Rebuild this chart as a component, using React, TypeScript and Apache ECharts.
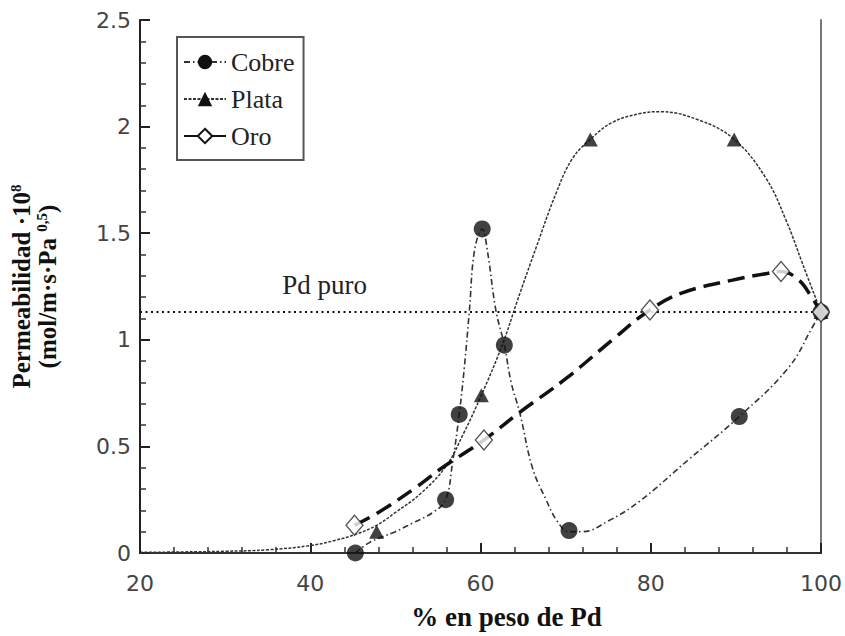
import React, { useEffect, useRef } from "react";
import * as echarts from "echarts";

// Measured marker positions (% Pd, permeability ·10^8)
const cobreX = [45.3, 55.9, 57.5, 60.2, 62.8, 70.4, 90.4, 100];
const cobreY = [0.0, 0.25, 0.65, 1.52, 0.975, 0.105, 0.64, 1.13];
const plataX = [47.8, 60.1, 72.9, 89.8, 100];
const plataY = [0.1, 0.74, 1.94, 1.94, 1.13];
const oroX = [45.2, 60.4, 79.9, 95.3, 100];
const oroY = [0.13, 0.53, 1.14, 1.32, 1.13];

// Fitted curves
const cobreCurveX = [45.3, 47, 50, 52, 54.4, 55.9, 56.7, 57.5, 58.1, 58.7, 59.3, 60.2, 60.8, 61.8, 62.8, 63.6, 64.6, 66.1, 67.7, 69, 70.4, 72, 75, 78.6, 84.5, 90.4, 96.2, 99, 100];
const cobreCurveY = [0.0, 0.05, 0.1, 0.14, 0.19, 0.25, 0.42, 0.65, 0.87, 1.14, 1.42, 1.52, 1.42, 1.14, 0.975, 0.8, 0.66, 0.4, 0.25, 0.15, 0.1, 0.1, 0.15, 0.24, 0.44, 0.64, 0.87, 1.06, 1.13];
const plataCurveX = [20, 25, 30, 35, 40, 43, 45.5, 47.8, 50, 53, 56, 58, 60.1, 62.6, 64.3, 66.6, 68.9, 70.8, 72.9, 75.5, 78.6, 81, 85.7, 89.8, 93.5, 95.9, 97.8, 100];
const plataCurveY = [0.003, 0.005, 0.008, 0.015, 0.035, 0.06, 0.09, 0.13, 0.19, 0.28, 0.41, 0.56, 0.74, 0.98, 1.18, 1.44, 1.69, 1.85, 1.94, 2.02, 2.06, 2.07, 2.03, 1.94, 1.76, 1.56, 1.36, 1.13];
const oroCurveX = [45.2, 48, 52.5, 55.5, 60.4, 64.6, 70.1, 75.5, 79.9, 83.7, 89.6, 93.5, 95.3, 97.4, 98.9, 100];
const oroCurveY = [0.13, 0.19, 0.31, 0.4, 0.53, 0.66, 0.82, 1.0, 1.14, 1.22, 1.28, 1.31, 1.32, 1.28, 1.2, 1.13];

const pdPuro = 1.13;
const pdPuroLabelX = 41.7;

const xTicks = { min: 20, max: 100, interval: 20 };
const yTicks = { min: 0, max: 2.5, interval: 0.5 };

const zip = (xs: number[], ys: number[]) => xs.map((x, i) => [x, ys[i]]);

const SERIF = '"Liberation Serif", "Times New Roman", serif';
const SANS = '"DejaVu Sans", sans-serif';

export default function App() {
  const ref = useRef<HTMLDivElement>(null);
  useEffect(() => {
    if (!ref.current) return;
    const chart = echarts.init(ref.current, undefined, { renderer: "svg" });
    const tick = () => ({ show: true, inside: true, length: 10, lineStyle: { color: "#222", width: 2 } });
    const minor = () => ({ show: true, splitNumber: 5, length: 6, lineStyle: { color: "#333", width: 1.5 } });
    const line = () => ({ show: true, lineStyle: { color: "#222", width: 2 } });
    const frame = (color: string) => ({
      axisLine: { show: true, lineStyle: { color, width: 2 } },
      axisTick: { show: false },
      minorTick: { show: false },
      axisLabel: { show: false },
      splitLine: { show: false },
    });
    chart.setOption({
      animation: false,
      backgroundColor: "#fff",
      grid: { left: 140, right: 23, top: 20, bottom: 83 },
      legend: {
        data: ["Cobre", "Plata", "Oro"],
        orient: "vertical",
        left: 177,
        top: 37,
        padding: [12, 9, 11, 6],
        itemGap: 11,
        itemWidth: 42,
        itemHeight: 18,
        borderColor: "#555",
        borderWidth: 2,
        backgroundColor: "#fff",
        selectedMode: false,
        textStyle: { fontFamily: SERIF, fontSize: 26, color: "#222", lineHeight: 26 },
      },
      xAxis: [
        {
          type: "value",
          ...xTicks,
          axisLine: line(),
          axisTick: tick(),
          minorTick: minor(),
          splitLine: { show: false },
          axisLabel: { margin: 19, fontFamily: SANS, fontSize: 22, color: "#444" },
          name: "% en peso de Pd",
          nameLocation: "middle",
          nameGap: 50,
          nameTextStyle: { fontFamily: SERIF, fontWeight: "bold", fontSize: 27, color: "#111", padding: [0, 0, 0, 52] },
        },
        { type: "value", position: "top", ...xTicks, ...frame("#333") },
      ],
      yAxis: [
        {
          type: "value",
          ...yTicks,
          axisLine: line(),
          axisTick: tick(),
          minorTick: minor(),
          splitLine: { show: false },
          axisLabel: { margin: 9, fontFamily: SANS, fontSize: 22, color: "#444" },
          name: "{t|Permeabilidad ·10}{s|8}\n{t|(mol/m·s·Pa }{s|0,5}{t|)}",
          nameLocation: "middle",
          nameRotate: 90,
          nameGap: 80,
          nameTextStyle: {
            rich: {
              t: { fontFamily: SERIF, fontWeight: "bold", fontSize: 25, color: "#111", lineHeight: 26 },
              s: { fontFamily: SERIF, fontWeight: "bold", fontSize: 15, color: "#111", lineHeight: 14, verticalAlign: "top" },
            },
          },
        },
        { type: "value", position: "right", ...yTicks, ...frame("#777") },
      ],
      series: [
        {
          name: "Cobre",
          type: "line",
          data: zip(cobreCurveX, cobreCurveY),
          smooth: 0.4,
          symbol: "circle",
          showSymbol: false,
          itemStyle: { color: "#111" },
          lineStyle: { color: "#333", width: 1.6, type: [6, 3, 1.5, 3] },
          z: 2,
          silent: true,
        },
        {
          name: "Plata",
          type: "line",
          data: zip(plataCurveX, plataCurveY),
          smooth: 0.4,
          symbol: "triangle",
          showSymbol: false,
          itemStyle: { color: "#111" },
          lineStyle: { color: "#333", width: 1.5, type: [3, 1.5] },
          z: 2,
          silent: true,
        },
        {
          name: "Oro",
          type: "line",
          data: zip(oroCurveX, oroCurveY),
          smooth: 0.4,
          symbol: "emptyDiamond",
          showSymbol: false,
          itemStyle: { color: "#111" },
          lineStyle: { color: "#111", width: 3.5, type: [17, 8] },
          z: 2,
          silent: true,
          markLine: {
            silent: true,
            symbol: "none",
            label: { show: false },
            lineStyle: { color: "#111", width: 2, type: [2, 3.5] },
            data: [{ yAxis: pdPuro }],
          },
          markPoint: {
            silent: true,
            symbol: "circle",
            symbolSize: 0,
            label: {
              show: true,
              position: "top",
              distance: 14,
              formatter: "Pd puro",
              fontFamily: SERIF,
              fontSize: 27,
              color: "#222",
            },
            data: [{ coord: [pdPuroLabelX, pdPuro] }],
          },
        },
        {
          name: "Cobre datos",
          type: "scatter",
          data: zip(cobreX, cobreY),
          symbol: "circle",
          symbolSize: 17,
          itemStyle: { color: "#111" },
          z: 5,
          silent: true,
        },
        {
          name: "Plata datos",
          type: "scatter",
          data: zip(plataX, plataY),
          symbol: "triangle",
          symbolSize: [15, 14],
          itemStyle: { color: "#111" },
          z: 5,
          silent: true,
        },
        {
          name: "Oro datos",
          type: "scatter",
          data: zip(oroX, oroY),
          symbol: "diamond",
          symbolSize: [17, 20],
          itemStyle: { color: "#fff", borderColor: "#222", borderWidth: 1.3 },
          z: 6,
          silent: true,
        },
      ],
    });
    return () => chart.dispose();
  }, []);
  return <div ref={ref} style={{ position: "fixed", left: 0, top: 0, width: 845, height: 636 }} />;
}
